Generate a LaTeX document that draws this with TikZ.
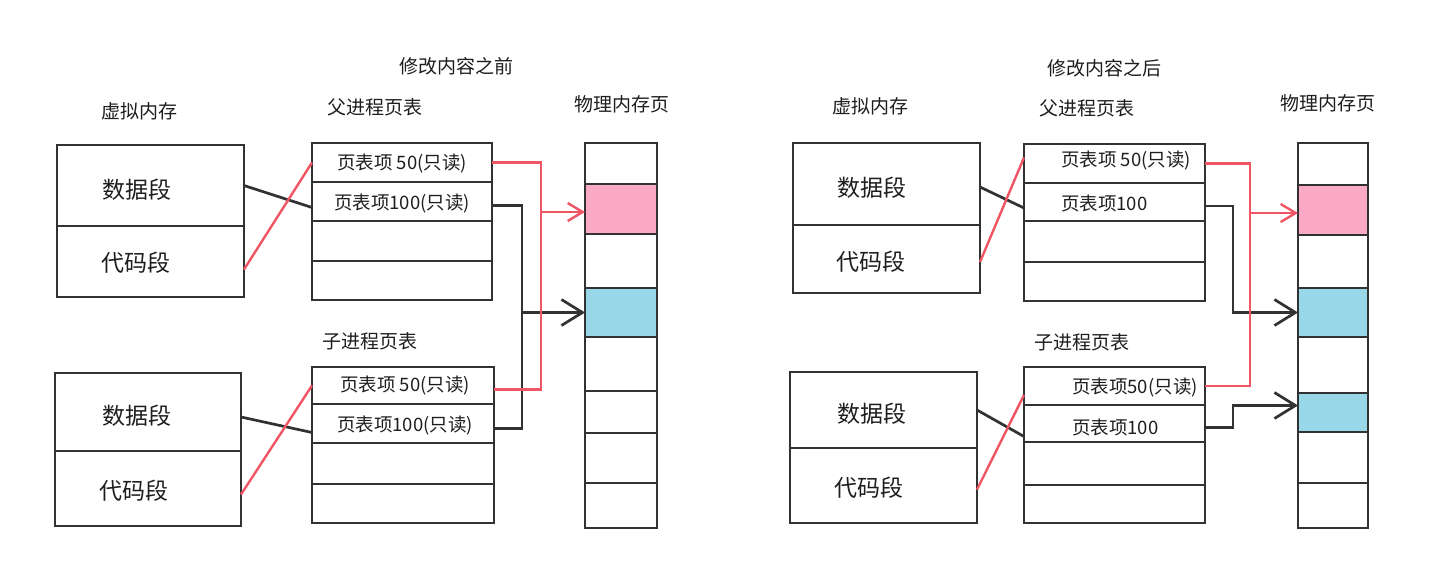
\documentclass[tikz,border=0pt]{standalone}
\usepackage{fontspec}
\newfontfamily\cjk{Noto Sans CJK SC}
\usetikzlibrary{arrows.meta,calc}
\definecolor{ink}{RGB}{50,50,50}
\definecolor{txt}{RGB}{30,30,30}
\definecolor{redl}{RGB}{240,85,100}
\definecolor{pinkc}{RGB}{250,170,196}
\definecolor{bluec}{RGB}{152,215,232}
\begin{document}
\begin{tikzpicture}[x=1pt,y=-1pt,
  pen/.style={draw=ink,line width=2.7pt},
  cell/.style={pen,fill=white,rectangle,inner sep=0pt,outer sep=0pt,anchor=north west},
  hdr/.style={font=\cjk\fontsize{19}{19}\selectfont,text=txt,inner sep=0pt},
  seg/.style={font=\cjk\fontsize{23}{23}\selectfont,text=txt,inner sep=0pt},
  lbl/.style={font=\cjk\fontsize{18.5}{18.5}\selectfont,text=txt,inner sep=0pt},
  blk/.style={draw=ink,line width=2.7pt},
  rd/.style={draw=redl,line width=2.4pt},
  bbarb/.style={-{Straight Barb[length=21pt,width=26pt,line width=2.7pt]}},
  rbarb/.style={-{Straight Barb[length=15pt,width=18pt,line width=2.4pt]}},
]
\fill[white] (0,0) rectangle (1446,571);
\useasboundingbox (0,0) rectangle (1446,571);

% ================= LEFT PANEL =================
\node[hdr] (lt) at (456,66) {修改内容之前};
\node[hdr] (lvh) at (139,111) {虚拟内存};
\node[hdr] (lph) at (375,107) {父进程页表};
\node[hdr] (lmh) at (622,104) {物理内存页};
\node[hdr] (lch) at (370,341) {子进程页表};

% virtual memory
\node[cell,minimum width=187pt,minimum height=81pt] (ld1) at (57,145) {};
\node[cell,minimum width=187pt,minimum height=71pt] (lk1) at (57,226) {};
\node[cell,minimum width=186pt,minimum height=78pt] (ld2) at (55,373) {};
\node[cell,minimum width=186pt,minimum height=75pt] (lk2) at (55,451) {};
\node[seg] (lsd1) at (137,190) {数据段};
\node[seg] (lsk1) at (136,263) {代码段};
\node[seg] (lsd2) at (137,416) {数据段};
\node[seg] (lsk2) at (134,491) {代码段};

% parent page table
\node[cell,minimum width=180pt,minimum height=39pt] (lp1) at (312,143) {};
\node[cell,minimum width=180pt,minimum height=39pt] (lp2) at (312,182) {};
\node[cell,minimum width=180pt,minimum height=40pt] (lp3) at (312,221) {};
\node[cell,minimum width=180pt,minimum height=39pt] (lp4) at (312,261) {};
\node[lbl] (lpt1) at (402,164) {页表项 50(只读)};
\node[lbl] (lpt2) at (402,204) {页表项100(只读)};

% child page table
\node[cell,minimum width=182pt,minimum height=37pt] (lc1) at (312,367) {};
\node[cell,minimum width=182pt,minimum height=39pt] (lc2) at (312,404) {};
\node[cell,minimum width=182pt,minimum height=41pt] (lc3) at (312,443) {};
\node[cell,minimum width=182pt,minimum height=39pt] (lc4) at (312,484) {};
\node[lbl] (lct1) at (405,386) {页表项 50(只读)};
\node[lbl] (lct2) at (405,426) {页表项100(只读)};

% physical memory
\node[cell,minimum width=72pt,minimum height=41pt] (lm1) at (585,143) {};
\node[cell,fill=pinkc,minimum width=72pt,minimum height=50pt] (lm2) at (585,184) {};
\node[cell,minimum width=72pt,minimum height=54pt] (lm3) at (585,234) {};
\node[cell,fill=bluec,minimum width=72pt,minimum height=49pt] (lm4) at (585,288) {};
\node[cell,minimum width=72pt,minimum height=54pt] (lm5) at (585,337) {};
\node[cell,minimum width=72pt,minimum height=42pt] (lm6) at (585,391) {};
\node[cell,minimum width=72pt,minimum height=50pt] (lm7) at (585,433) {};
\node[cell,minimum width=72pt,minimum height=45pt] (lm8) at (585,483) {};

% VM -> page table links
\draw[blk] (ld1.east) -- ([yshift=-6pt]lp2.west);
\draw[rd] ([yshift=-8pt]lk1.east) -- (lp1.west);
\draw[blk] ([yshift=-5pt]ld2.east) -- ([yshift=-9pt]lc2.west);
\draw[rd] ([yshift=-6pt]lk2.east) -- (lc1.west);

% page table -> physical memory
\coordinate (lrx) at (541,0);
\coordinate (lbx) at (522,0);
\coordinate (lp2o) at ([yshift=-4pt]lp2.east);
\coordinate (lc1o) at ([yshift=-4pt]lc1.east);
\coordinate (lc2o) at ([yshift=-5pt]lc2.east);
\coordinate (lm2a) at ([yshift=-3pt]lm2.west);
\draw[blk,bbarb] (lp2o) -- (lp2o -| lbx) |- (lm4.west);
\draw[blk] (lc2o) -- (lc2o -| lbx) -- (lbx |- lm4.west);
\draw[rd,rbarb] (lp1.east) -- (lp1.east -| lrx) |- (lm2a);
\draw[rd] (lc1o) -- (lc1o -| lrx) -- (lrx |- lm2a);

% ================= RIGHT PANEL =================
\node[hdr] (rt) at (1104,68) {修改内容之后};
\node[hdr] (rvh) at (870,106) {虚拟内存};
\node[hdr] (rph) at (1087,108) {父进程页表};
\node[hdr] (rmh) at (1328,103) {物理内存页};
\node[hdr] (rch) at (1082,342) {子进程页表};

% virtual memory
\node[cell,minimum width=187pt,minimum height=82pt] (rd1) at (793,143) {};
\node[cell,minimum width=187pt,minimum height=68pt] (rk1) at (793,225) {};
\node[cell,minimum width=187pt,minimum height=76pt] (rd2) at (790,372) {};
\node[cell,minimum width=187pt,minimum height=75pt] (rk2) at (790,448) {};
\node[seg] (rsd1) at (872,188) {数据段};
\node[seg] (rsk1) at (871,262) {代码段};
\node[seg] (rsd2) at (872,414) {数据段};
\node[seg] (rsk2) at (869,488) {代码段};

% parent page table
\node[cell,minimum width=181pt,minimum height=39pt] (rp1) at (1024,144) {};
\node[cell,minimum width=181pt,minimum height=38pt] (rp2) at (1024,183) {};
\node[cell,minimum width=181pt,minimum height=41pt] (rp3) at (1024,221) {};
\node[cell,minimum width=181pt,minimum height=39pt] (rp4) at (1024,262) {};
\node[lbl,anchor=west] (rpt1) at (1061,161) {页表项 50(只读)};
\node[lbl,anchor=west] (rpt2) at (1061,203) {页表项100};

% child page table
\node[cell,minimum width=181pt,minimum height=38pt] (rc1) at (1024,367) {};
\node[cell,minimum width=181pt,minimum height=37pt] (rc2) at (1024,405) {};
\node[cell,minimum width=181pt,minimum height=43pt] (rc3) at (1024,442) {};
\node[cell,minimum width=181pt,minimum height=38pt] (rc4) at (1024,485) {};
\node[lbl,anchor=west] (rct1) at (1072,388) {页表项50(只读)};
\node[lbl,anchor=west] (rct2) at (1072,427) {页表项100};

% physical memory
\node[cell,minimum width=70pt,minimum height=42pt] (rm1) at (1298,143) {};
\node[cell,fill=pinkc,minimum width=70pt,minimum height=50pt] (rm2) at (1298,185) {};
\node[cell,minimum width=70pt,minimum height=53pt] (rm3) at (1298,235) {};
\node[cell,fill=bluec,minimum width=70pt,minimum height=49pt] (rm4) at (1298,288) {};
\node[cell,minimum width=70pt,minimum height=56pt] (rm5) at (1298,337) {};
\node[cell,fill=bluec,minimum width=70pt,minimum height=39pt] (rm6) at (1298,393) {};
\node[cell,minimum width=70pt,minimum height=51pt] (rm7) at (1298,432) {};
\node[cell,minimum width=70pt,minimum height=45pt] (rm8) at (1298,483) {};

% VM -> page table links
\draw[blk] ([yshift=-3pt]rd1.east) -- ([yshift=-6pt]rp2.west);
\draw[rd] ([yshift=-3pt]rk1.east) -- ([yshift=6pt]rp1.west);
\draw[blk] (rd2.east) -- ([yshift=-13pt]rc2.west);
\draw[rd] ([yshift=-4pt]rk2.east) -- ([yshift=-9pt]rc1.west);

% page table -> physical memory
\coordinate (rrx) at (1250,0);
\coordinate (rbx) at (1233,0);
\coordinate (rp2o) at ([yshift=-4pt]rp2.east);
\coordinate (rc2o) at ([yshift=-4pt]rc2.east);
\coordinate (rm2a) at ([yshift=-3pt]rm2.west);
\coordinate (rm6a) at ([yshift=7pt]rm6.west);
\draw[blk,bbarb] (rp2o) -- (rp2o -| rbx) |- (rm4.west);
\draw[blk,bbarb] (rc2o) -- (rc2o -| rbx) |- (rm6a);
\draw[rd,rbarb] (rp1.east) -- (rp1.east -| rrx) |- (rm2a);
\draw[rd] (rc1.east) -- (rc1.east -| rrx) -- (rrx |- rm2a);
\end{tikzpicture}
\end{document}
